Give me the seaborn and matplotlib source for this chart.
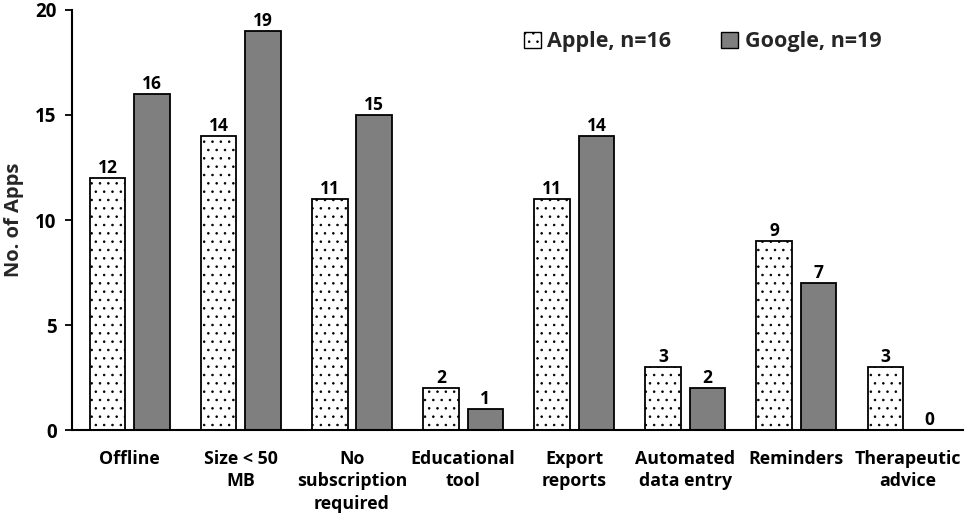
import matplotlib
matplotlib.use("Agg")
import matplotlib.pyplot as plt
import seaborn as sns
import pandas as pd
from matplotlib.patches import Patch

categories = ["Offline", "Size < 50\nMB", "No\nsubscription\nrequired", "Educational\ntool",
              "Export\nreports", "Automated\ndata entry", "Reminders", "Therapeutic\nadvice"]
apple = [12, 14, 11, 2, 11, 3, 9, 3]
google = [16, 19, 15, 1, 14, 2, 7, 0]
series = ["Apple, n=16", "Google, n=19"]
yticks = [0, 5, 10, 15, 20]

sns.set_theme(style="white")
plt.rcParams['font.family'] = ['Open Sans', 'DejaVu Sans']
plt.rcParams['font.weight'] = 'bold'
plt.rcParams['hatch.color'] = '#a8a8a8'
plt.rcParams['hatch.linewidth'] = 0.6

df = pd.DataFrame({
    "cat": categories * 2,
    "val": apple + google,
    "series": [series[0]] * len(categories) + [series[1]] * len(categories),
})

fig = plt.figure(figsize=(9.65, 5.22), dpi=100)
ax = fig.add_axes([0.0746, 0.176, 0.9234, 0.805])

sns.barplot(data=df, x="cat", y="val", hue="series", order=categories, hue_order=series,
            palette=["white", "#7f7f7f"], width=0.8, gap=0.2, edgecolor="black",
            linewidth=1.3, ax=ax, legend=False)

n = len(categories)
for i, p in enumerate(ax.patches[:2 * n]):
    if i < n:
        p.set_hatch('..')

for cont in ax.containers:
    ax.bar_label(cont, fontsize=12.5, fontweight='bold', padding=1, color='black')

ax.set_ylim(0, 20)
ax.set_yticks(yticks)
ax.set_xlim(-0.52, n - 0.5)
ax.set_xlabel("")
ax.set_ylabel("No. of Apps", fontsize=14.5, fontweight='bold', labelpad=8)
ax.tick_params(axis='y', labelsize=13.5, length=5, width=1.3, direction='out', left=True, color='black', pad=6)
ax.tick_params(axis='x', labelsize=12.8, length=0, pad=14)
for lab in ax.get_xticklabels() + ax.get_yticklabels():
    lab.set_fontweight('bold')
    lab.set_color('black')
    lab.set_linespacing(1.35)

for s in ["top", "right"]:
    ax.spines[s].set_visible(False)
for s in ["left", "bottom"]:
    ax.spines[s].set_color("black")
    ax.spines[s].set_linewidth(1.5)

handles = [Patch(facecolor="white", edgecolor="black", hatch='..', label=series[0]),
           Patch(facecolor="#7f7f7f", edgecolor="black", label=series[1])]
leg = ax.legend(handles=handles, loc="upper right", bbox_to_anchor=(0.93, 0.995), ncol=2,
                frameon=False, handlelength=0.8, handleheight=0.8,
                handletextpad=0.3, columnspacing=2.3, prop={'weight': 'bold', 'size': 15.5})

fig.savefig("out.png", dpi=100)
